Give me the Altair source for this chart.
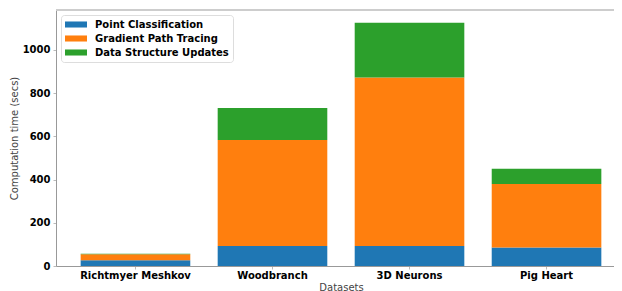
import altair as alt
import pandas as pd

datasets = ["Richtmyer Meshkov", "Woodbranch", "3D Neurons", "Pig Heart"]
series = ["Point Classification", "Gradient Path Tracing", "Data Structure Updates"]
point_classification = [27, 93, 93, 86]
gradient_path_tracing = [27, 490, 779, 294]
data_structure_updates = [3, 148, 254, 70]
colors = ["#1f77b4", "#ff7f0e", "#2ca02c"]
y_ticks = [0, 200, 400, 600, 800, 1000]

rows = []
for si, (name, vals) in enumerate(zip(series, [point_classification, gradient_path_tracing, data_structure_updates])):
    for d, v in zip(datasets, vals):
        rows.append({"Dataset": d, "Component": name, "Time": v, "idx": si})
df = pd.DataFrame(rows)

W, H = 570, 256
FONT = "DejaVu Sans"

bars = alt.Chart(df).mark_bar().encode(
    x=alt.X("Dataset:N", sort=datasets,
            scale=alt.Scale(paddingInner=0.2, paddingOuter=0.18),
            axis=alt.Axis(title="Datasets", labelAngle=0, labelFontWeight="bold",
                          labelFontSize=10, labelColor="#000", labelPadding=1,
                          tickSize=3, tickColor="#bbb", domainColor="#999",
                          titleFontSize=10, titleFontWeight="normal", titleColor="#444",
                          titlePadding=2)),
    y=alt.Y("Time:Q", stack="zero",
            scale=alt.Scale(domain=[0, 1185], nice=False),
            axis=alt.Axis(title="Computation time (secs)", values=y_ticks, grid=False,
                          format="d",
                          labelFontWeight="bold", labelFontSize=10, labelColor="#000",
                          labelPadding=3, tickSize=3, tickColor="#bbb", domainColor="#999",
                          titleFontSize=10, titleFontWeight="normal", titleColor="#444",
                          titlePadding=3)),
    color=alt.Color("Component:N", sort=series,
                    scale=alt.Scale(domain=series, range=colors),
                    legend=alt.Legend(title=None, orient="top-left", offset=5,
                                      symbolType="M-1,-0.55L3,-0.55L3,0.55L-1,0.55Z",
                                      symbolSize=121, symbolStrokeWidth=0,
                                      labelFontSize=10, labelFontWeight="bold",
                                      labelColor="#000", labelOffset=19,
                                      rowPadding=3, padding=4,
                                      fillColor="white", strokeColor="#ddd",
                                      cornerRadius=3)),
    order=alt.Order("idx:Q", sort="ascending"),
)

frame = alt.Chart(df).mark_rule(color="#ccc", strokeWidth=1.5).encode(
    x=alt.value(0), x2=alt.value(W), y=alt.value(0)
)

chart = alt.layer(bars, frame).properties(
    width=W, height=H,
    padding={"left": 1, "top": 1, "right": -13, "bottom": 0},
).configure_view(stroke=None).configure(font=FONT)

chart.save("out.html", embed_options={"renderer": "svg", "actions": False})
